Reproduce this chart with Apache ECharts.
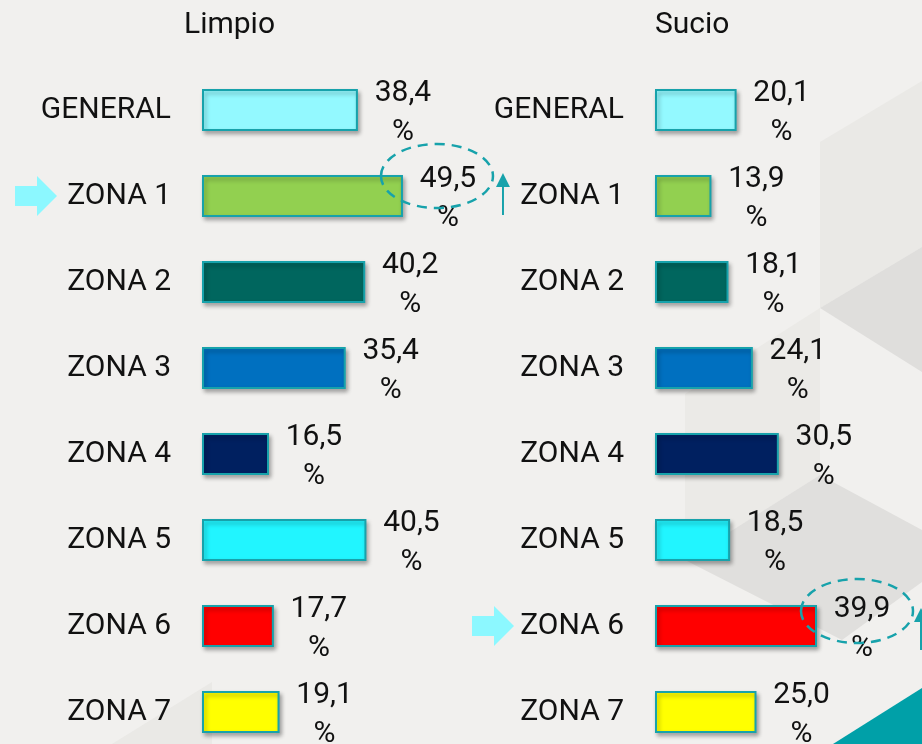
<!DOCTYPE html>
<html>
<head>
<meta charset="utf-8">
<script src="https://cdn.jsdelivr.net/npm/echarts@6/dist/echarts.min.js"></script>
<style>
  html, body { margin: 0; padding: 0; background: #f1f0ee; }
  #main { width: 922px; height: 744px; }
</style>
</head>
<body>
<div id="main"></div>
<script>
const categories = ["GENERAL", "ZONA 1", "ZONA 2", "ZONA 3", "ZONA 4", "ZONA 5", "ZONA 6", "ZONA 7"];
const limpio = [38.4, 49.5, 40.2, 35.4, 16.5, 40.5, 17.7, 19.1];
const sucio = [20.1, 13.9, 18.1, 24.1, 30.5, 18.5, 39.9, 25.0];
const barColors = ["#93f9ff", "#92d050", "#00665e", "#0070c0", "#002060", "#21f5ff", "#ff0000", "#ffff00"];
const panelTitles = ["Limpio", "Sucio"];
// highlighted rows: [panel index, category]
const highlights = [[0, "ZONA 1"], [1, "ZONA 6"]];

const FONT = "Roboto";
const TEAL = "#17a2ab";

const chart = echarts.init(document.getElementById("main"));

function fmt(v) {
  return v.toFixed(1).replace(".", ",") + "\n%";
}

function buildSeries(values, idx) {
  return {
    type: "bar",
    xAxisIndex: idx,
    yAxisIndex: idx,
    barWidth: 42,
    data: values.map((v, i) => ({
      value: v,
      itemStyle: { color: barColors[i] },
    })),
    itemStyle: {
      borderColor: TEAL,
      borderWidth: 2,
      shadowColor: "rgba(0,0,0,0.3)",
      shadowBlur: 4,
      shadowOffsetX: 2,
      shadowOffsetY: 3,
    },
    label: {
      show: true,
      position: "right",
      distance: 45,
      offset: [0, 3],
      align: "center",
      verticalAlign: "middle",
      fontFamily: FONT,
      fontSize: 30,
      lineHeight: 39,
      color: "#111",
      formatter: (p) => fmt(p.value),
    },
    silent: true,
  };
}

const gridLefts = [202, 655];

const yAxes = gridLefts.map((_, i) => ({
  type: "category",
  gridIndex: i,
  data: categories,
  inverse: true,
  axisLine: { show: false },
  axisTick: { show: false },
  axisLabel: {
    margin: 31,
    fontFamily: FONT,
    fontSize: 30,
    color: "#111",
  },
}));

const xAxes = gridLefts.map((_, i) => ({
  type: "value",
  gridIndex: i,
  min: 0,
  max: 50,
  show: false,
}));

// background decoration (slide style facets)
const bgShapes = [
  { pts: [[820, 142], [922, 81], [922, 247], [820, 308]], fill: "#eae9e6" },
  { pts: [[820, 308], [922, 247], [922, 372]], fill: "#dfdedc" },
  { pts: [[685, 394], [820, 308], [820, 475], [685, 560]], fill: "#ebeae7" },
  { pts: [[685, 560], [820, 475], [922, 530], [922, 582], [842, 640]], fill: "#e0dfdd" },
  { pts: [[112, 744], [212, 682], [212, 744]], fill: "#eae9e6" },
  { pts: [[833, 744], [922, 688], [922, 744]], fill: "#00a0a8" },
];

chart.setOption({
  backgroundColor: "#f1f0ee",
  animation: false,
  title: panelTitles.map((t, i) => ({
    text: t,
    left: i === 0 ? 184 : 655,
    top: 10,
    padding: 0,
    textStyle: { fontFamily: FONT, fontSize: 30, fontWeight: "normal", color: "#111" },
  })),
  grid: gridLefts.map((l) => ({ left: l, width: 203, top: 67, height: 688, outerBoundsMode: "none" })),
  xAxis: xAxes,
  yAxis: yAxes,
  series: [buildSeries(limpio, 0), buildSeries(sucio, 1)],
});

// annotations anchored on the highlighted bars
const notes = [];
highlights.forEach(([gi, cat]) => {
  const values = gi === 0 ? limpio : sucio;
  const v = values[categories.indexOf(cat)];
  const [bx, by] = chart.convertToPixel({ gridIndex: gi }, [v, cat]);
  const ax = gridLefts[gi] - (gi === 0 ? 145 : 141);
  // block arrow in front of the category name
  notes.push({
    type: "polygon",
    z: 50,
    silent: true,
    shape: {
      points: [
        [ax - 42, by - 10], [ax - 20, by - 10], [ax - 20, by - 20],
        [ax, by], [ax - 20, by + 20], [ax - 20, by + 10], [ax - 42, by + 10],
      ],
    },
    style: { fill: "#8cf8ff" },
  });
  // dashed ring round the value
  const cx = bx + (gi === 0 ? 34 : 40);
  const cy = by - (gi === 0 ? 20 : 15);
  notes.push({
    type: "ellipse",
    z: 60,
    silent: true,
    shape: { cx: cx, cy: cy, rx: 56, ry: 32 },
    style: { fill: "none", stroke: TEAL, lineWidth: 2.5, lineDash: [10, 7] },
  });
  // small up arrow
  const ux = bx + (gi === 0 ? 100 : 104);
  const uy = by - (gi === 0 ? 23 : 18);
  notes.push({
    type: "polygon",
    z: 60,
    silent: true,
    shape: { points: [[ux, uy], [ux + 7, uy + 14], [ux - 7, uy + 14]] },
    style: { fill: TEAL },
  });
  notes.push({
    type: "line",
    z: 60,
    silent: true,
    shape: { x1: ux, y1: uy + 12, x2: ux, y2: uy + 42 },
    style: { stroke: TEAL, lineWidth: 2 },
  });
});

chart.setOption({
  graphic: bgShapes.map((s) => ({
    type: "polygon",
    z: -10,
    silent: true,
    shape: { points: s.pts },
    style: { fill: s.fill },
  })).concat(notes),
});

window.addEventListener("resize", chart.resize);
</script>
</body>
</html>
